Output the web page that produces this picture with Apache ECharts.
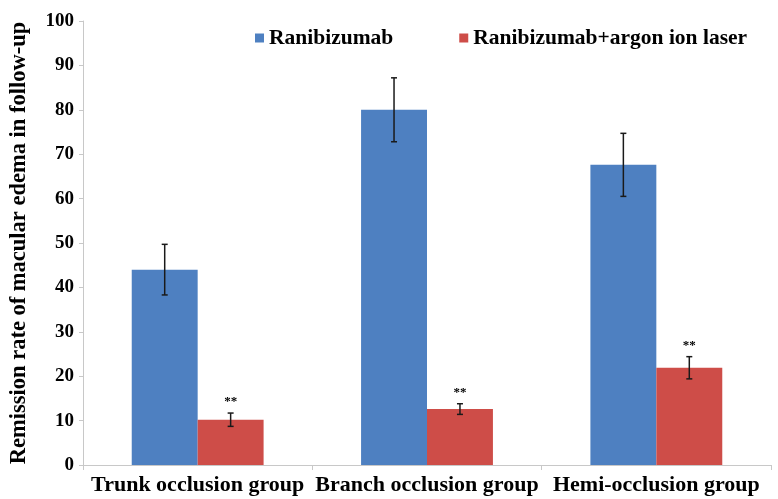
<!DOCTYPE html>
<html>
<head>
<meta charset="utf-8">
<script src="https://cdn.jsdelivr.net/npm/echarts@6/dist/echarts.min.js"></script>
<style>
  html, body { margin: 0; padding: 0; background: #fff; }
  #chart { width: 778px; height: 499px; }
</style>
</head>
<body>
<div id="chart"></div>
<script>
// Remission rate of macular edema by occlusion group, mean ± error
const categories = ['Trunk occlusion group', 'Branch occlusion group', 'Hemi-occlusion group'];
const seriesNames = ['Ranibizumab', 'Ranibizumab+argon ion laser'];
const ranibizumab = [44.0, 80.0, 67.6];
const ranibizumabErr = [5.7, 7.2, 7.1];
const combined = [10.2, 12.6, 21.9];
const combinedErr = [1.5, 1.2, 2.5];
const significance = ['**', '**', '**'];
const yTicks = { min: 0, max: 100, interval: 10 };

const BLUE = '#4E80C1';
const RED = '#CE4D48';
const CATEGORY_GAP = 0.425;
const FONT = '"Liberation Serif", "Times New Roman", serif';

// Error bar with caps, shifted to the centre of one of the two bars in a group
function errorRenderer(values, errors, side, marks) {
  return function (params, api) {
    const i = api.value(0);
    const center = api.coord([i, 0]);
    const band = api.size([1, 0])[0];
    const barW = band * (1 - CATEGORY_GAP) / 2;
    const x = center[0] + side * barW / 2;
    const top = api.coord([i, values[i] + errors[i]])[1];
    const bot = api.coord([i, values[i] - errors[i]])[1];
    const cap = 3;
    const style = { stroke: '#1a1a1a', lineWidth: 1.5 };
    const children = [
      { type: 'line', shape: { x1: x, y1: top, x2: x, y2: bot }, style: style },
      { type: 'line', shape: { x1: x - cap, y1: top, x2: x + cap, y2: top }, style: style },
      { type: 'line', shape: { x1: x - cap, y1: bot, x2: x + cap, y2: bot }, style: style }
    ];
    if (marks) {
      children.push({
        type: 'text',
        style: {
          text: marks[i], x: x, y: top - 5,
          align: 'center', verticalAlign: 'bottom',
          font: 'bold 13px ' + FONT, fill: '#000'
        }
      });
    }
    return { type: 'group', children: children };
  };
}

const chart = echarts.init(document.getElementById('chart'), null, { renderer: 'canvas' });
chart.setOption({
  animation: false,
  backgroundColor: '#fff',
  textStyle: { fontFamily: FONT },
  grid: { left: 78, right: 7, top: 21, bottom: 34, containLabel: false },
  legend: {
    top: 22,
    left: 250,
    itemGap: 66,
    itemWidth: 9,
    itemHeight: 9,
    icon: 'rect',
    textStyle: { fontFamily: FONT, fontWeight: 'bold', fontSize: 21.5, color: '#000' },
    data: seriesNames
  },
  xAxis: {
    type: 'category',
    data: categories,
    axisLine: { lineStyle: { color: '#c8c8c8', width: 1 } },
    axisTick: { show: true, alignWithLabel: false, length: 5, lineStyle: { color: '#c8c8c8' } },
    axisLabel: { fontFamily: FONT, fontWeight: 'bold', fontSize: 22, color: '#000', margin: 9, interval: 0 }
  },
  yAxis: {
    type: 'value',
    min: yTicks.min, max: yTicks.max, interval: yTicks.interval,
    name: 'Remission rate of macular edema in follow-up',
    nameLocation: 'middle',
    nameGap: 52,
    nameTextStyle: { fontFamily: FONT, fontWeight: 'bold', fontSize: 22.5, color: '#000' },
    axisLine: { show: true, lineStyle: { color: '#c8c8c8', width: 1 } },
    axisTick: { show: true, length: 4, lineStyle: { color: '#c8c8c8' } },
    splitLine: { show: false },
    axisLabel: { fontFamily: FONT, fontWeight: 'bold', fontSize: 19, color: '#000', margin: 9 }
  },
  series: [
    {
      name: seriesNames[0], type: 'bar', data: ranibizumab,
      barGap: '0%', barCategoryGap: (CATEGORY_GAP * 100) + '%',
      itemStyle: { color: BLUE }
    },
    {
      name: seriesNames[1], type: 'bar', data: combined,
      barGap: '0%', barCategoryGap: (CATEGORY_GAP * 100) + '%',
      itemStyle: { color: RED }
    },
    {
      type: 'custom', name: 'err-blue', silent: true, z: 5,
      data: categories.map((c, i) => [i]),
      renderItem: errorRenderer(ranibizumab, ranibizumabErr, -1, null)
    },
    {
      type: 'custom', name: 'err-red', silent: true, z: 5,
      data: categories.map((c, i) => [i]),
      renderItem: errorRenderer(combined, combinedErr, 1, significance)
    }
  ]
});
</script>
</body>
</html>
